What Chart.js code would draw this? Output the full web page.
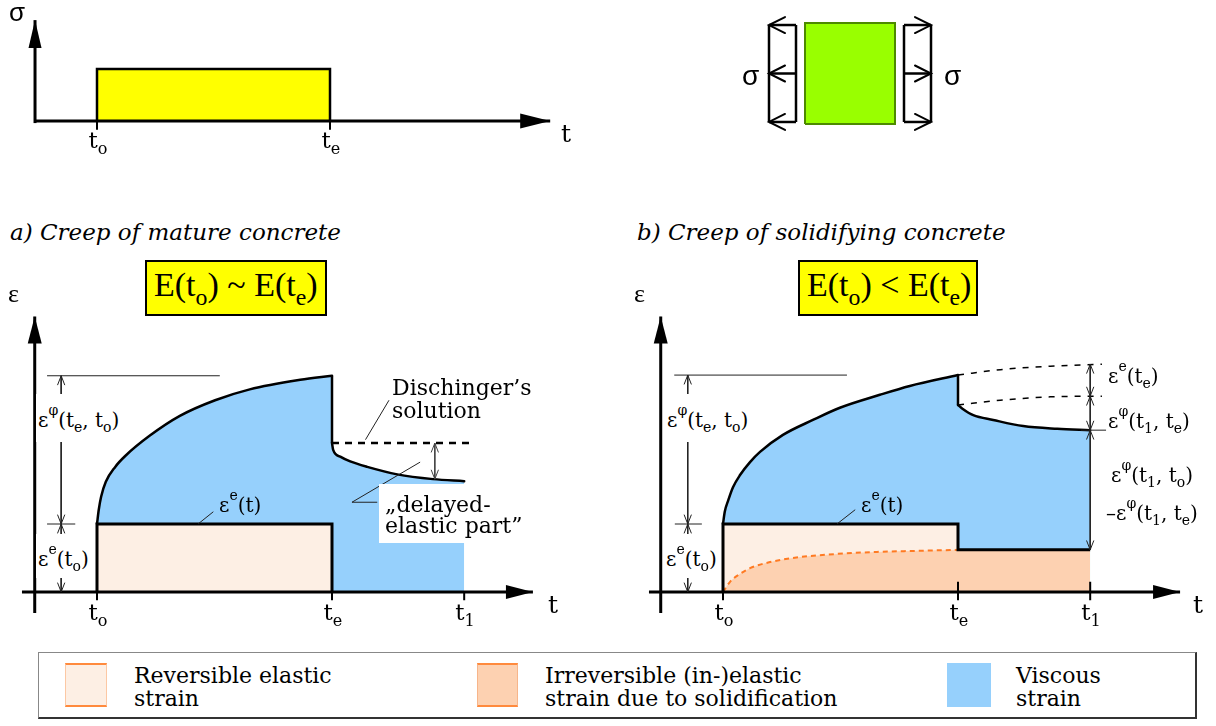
<!DOCTYPE html>
<html>
<head>
<meta charset="utf-8">
<title>Creep of mature and solidifying concrete</title>
<script src="https://cdn.jsdelivr.net/npm/chart.js@4.4.1/dist/chart.umd.min.js"></script>
<style>
  html, body { margin: 0; padding: 0; background: #fff; }
  #page { position: relative; width: 1216px; height: 726px; overflow: hidden; background: #fff; }
  #page canvas { position: absolute; }
  .lbl { position: absolute; white-space: nowrap; line-height: 1; color: #000; }
  .lbl sub, .lbl sup { font-size: 0.7em; line-height: 0; position: relative; vertical-align: baseline; }
  .lbl sub { top: 0.38em; }
  .lbl sup { top: -0.85em; }
  .ebox { position: absolute; background: #ffff00; border: 2px solid #000; box-sizing: border-box; }
  .legend { position: absolute; left: 38px; top: 652px; width: 1159px; height: 67px; box-sizing: border-box;
            border: 1px solid #888; border-right: 2px solid #333; border-bottom: 2px solid #333; }
  .sw { position: absolute; box-sizing: border-box; }
  .white { position: absolute; background: #fff; }
</style>
</head>
<body>
<div id="page">
  <canvas id="stress" width="600" height="170" style="left:0px;top:0px"></canvas>
  <canvas id="element" width="240" height="150" style="left:740px;top:0px"></canvas>
  <canvas id="panelA" width="600" height="340" style="left:0px;top:300px"></canvas>
  <canvas id="panelB" width="596" height="340" style="left:620px;top:300px"></canvas>
  <div class="ebox" style="left:145px;top:260px;width:182px;height:56px"></div>
  <div class="ebox" style="left:798px;top:260px;width:180px;height:56px"></div>
  <div class="white" style="left:379px;top:484px;width:140px;height:59px"></div>
  <div class="legend"></div>
  <div class="sw" style="left:65px;top:663px;width:42px;height:44px;background:#fdefe4;border-top:2px solid #ff8a3d;border-bottom:2px solid #ff8a3d;border-left:1px solid #fcc8a4;border-right:1px solid #fcc8a4"></div>
  <div class="sw" style="left:477px;top:663px;width:41px;height:44px;background:#fdd1b1;border-top:2px solid #ff8a3d;border-bottom:2px solid #ff8a3d;border-left:1px solid #f7b58a;border-right:1px solid #f7b58a"></div>
  <div class="sw" style="left:947px;top:663px;width:44px;height:44px;background:#96d0fc"></div>
</div>
<script>
// ---------------------------------------------------------------
// Data (time in arbitrary units, strain in units of ε^e(t_o))
// ---------------------------------------------------------------
const timeMarks = [1, 5, 7.25];            // t_o, t_e, t_1
const timeNames = ['o', 'e', '1'];
const [T_O, T_E, T_1] = timeMarks;
const EPS_E = 1;                           // initial elastic strain ε^e(t_o)

// stress history σ(t): load applied at t_o, removed at t_e
const stressHistory = [[1, 0], [1, 1], [5, 1], [5, 0]];

// a) mature concrete
const elasticA  = [[1, 1], [5, 1]];
const creepA    = [[1, 1.00], [1.03, 1.21], [1.07, 1.40], [1.15, 1.62], [1.31, 1.84], [1.48, 2.00],
                   [1.90, 2.30], [2.41, 2.59], [3.01, 2.82], [3.60, 2.98], [4.46, 3.12], [5.00, 3.18]];
const recoveryA = [[5, 2.19], [5.02, 2.09], [5.14, 1.99], [5.31, 1.92], [5.60, 1.84], [6.11, 1.73],
                   [6.72, 1.66], [7.25, 1.63]];
const dischingerA   = [[5, 2.19], [7.35, 2.19]];
const delayedArrowA = [[6.75, 2.19], [6.75, 1.66]];

// b) solidifying concrete
const elasticB     = [[1, 1], [5, 1], [5, 0.62], [7.25, 0.62]];
const solidifiedB  = [[1, 0], [1.12, 0.15], [1.26, 0.25], [1.46, 0.35], [1.80, 0.44], [2.28, 0.51],
                      [2.94, 0.56], [3.62, 0.59], [4.29, 0.605], [5, 0.62]];
const creepB       = [[1, 1.00], [1.03, 1.18], [1.09, 1.35], [1.17, 1.54], [1.29, 1.72], [1.46, 1.91],
                      [1.63, 2.06], [2.02, 2.31], [2.53, 2.53], [2.99, 2.71], [3.67, 2.90], [4.18, 3.03], [5, 3.19]];
const recoveryB    = [[5, 2.75], [5.07, 2.70], [5.26, 2.60], [5.60, 2.53], [6.11, 2.44], [6.69, 2.40], [7.25, 2.38]];
const extrapTopB   = [[5, 3.19], [5.72, 3.27], [6.57, 3.32], [7.45, 3.35]];
const extrapLowB   = [[5, 2.75], [5.72, 2.82], [6.57, 2.87], [7.45, 2.88]];
const splitAtT1B   = [3.35, 2.88, 2.38, 0.62];   // ε^e(t_e) | ε^φ(t_1,t_e) | remaining part

// stressed element (unit square) with stress arrows
const elementSquare = [[-1, 1], [1, 1]];
const arrowLevels   = [0.96, 0, -0.96];

// ---------------------------------------------------------------
const BLUE = '#96d0fc', PEACH = '#fdefe4', ORANGE_FILL = '#fdd1b1', ORANGE = '#ff7a22';
const YELLOW = '#ffff00', GREEN = '#99ff00';
const pts = arr => arr.map(([x, y]) => ({x, y}));

// scale limits so that value v1 lands on pixel p1 and v2 on p2 of a canvas side
function range(v1, p1, v2, p2, size, flip) {
  if (!flip) {
    const k = (p2 - p1) / (v2 - v1);
    const min = v1 - p1 / k;
    return {min, max: min + size / k};
  }
  const k = (p1 - p2) / (v2 - v1);
  const max = v1 + p1 / k;
  return {min: max - size / k, max};
}

// arrow heads at the ends of datasets that ask for them
function head(ctx, tip, from, spec, color) {
  const a = Math.atan2(tip.y - from.y, tip.x - from.x);
  const bx = tip.x - spec.len * Math.cos(a), by = tip.y - spec.len * Math.sin(a);
  const nx = -Math.sin(a) * spec.half, ny = Math.cos(a) * spec.half;
  ctx.save();
  ctx.beginPath();
  ctx.moveTo(bx + nx, by + ny);
  ctx.lineTo(tip.x, tip.y);
  ctx.lineTo(bx - nx, by - ny);
  if (spec.filled) { ctx.closePath(); ctx.fillStyle = color; ctx.fill(); }
  else { ctx.strokeStyle = color; ctx.lineWidth = spec.width || 1; ctx.lineCap = 'round'; ctx.stroke(); }
  ctx.restore();
}
const arrowHeads = {
  id: 'arrowHeads',
  afterDatasetsDraw(chart) {
    chart.data.datasets.forEach((ds, i) => {
      const spec = ds.arrows;
      if (!spec) return;
      const p = chart.getDatasetMeta(i).data;
      const n = p.length;
      if (spec.end) head(chart.ctx, p[n - 1], p[n - 2], spec, ds.borderColor);
      if (spec.start) head(chart.ctx, p[0], p[1], spec, ds.borderColor);
    });
  }
};

const dsFill = (data, color, fill, order, smooth) => ({
  data: pts(data), backgroundColor: color, borderColor: 'rgba(0,0,0,0)', borderWidth: 0,
  fill, order, tension: 0, cubicInterpolationMode: smooth ? 'monotone' : 'default', pointRadius: 0
});
const dsLine = (data, o = {}) => Object.assign({
  data: pts(data), borderColor: '#000', borderWidth: 1, fill: false, order: 1, tension: 0,
  pointRadius: 0, borderCapStyle: 'butt', borderJoinStyle: 'miter'
}, o);
const dsCurve = (data, o = {}) => dsLine(data, Object.assign({cubicInterpolationMode: 'monotone', borderCapStyle: 'round'}, o));

const AXIS_HEAD = {end: true, filled: true, len: 27, half: 7};
const DIM = {start: true, end: true, len: 9, half: 3.5, width: 1};

function makeChart(id, xr, yr, datasets) {
  return new Chart(document.getElementById(id), {
    type: 'line',
    data: {datasets},
    options: {
      responsive: false, animation: false, events: [],
      layout: {padding: 0},
      plugins: {legend: {display: false}, tooltip: {enabled: false}, title: {display: false}},
      elements: {point: {radius: 0, hoverRadius: 0, hitRadius: 0}},
      scales: {
        x: {type: 'linear', display: false, min: xr.min, max: xr.max},
        y: {type: 'linear', display: false, min: yr.min, max: yr.max}
      }
    },
    plugins: [arrowHeads]
  });
}

// ---------- σ(t) history ----------
const stressChart = makeChart('stress', range(1, 97, 5, 330, 600), range(0, 121, 1, 69, 170, true), [
  dsLine(stressHistory, {fill: 'origin', backgroundColor: YELLOW, borderWidth: 2.5, order: 5}),
  dsLine([[-0.064, 0], [8.78, 0]], {borderWidth: 3, arrows: Object.assign({}, AXIS_HEAD, {len: 30, half: 7.5})}),
  dsLine([[-0.064, -0.04], [-0.064, 1.94]], {borderWidth: 3, arrows: Object.assign({}, AXIS_HEAD, {len: 28, half: 6.5})}),
  ...timeMarks.slice(0, 2).map(t => dsLine([[t, 0], [t, -0.17]], {borderWidth: 2}))
]);

// ---------- stressed element ----------
const elementChart = makeChart('element', range(-1, 65, 1, 155, 240), range(-1, 124, 1, 23, 150, true), [
  dsFill(elementSquare, GREEN, {value: -1}, 5, false),
  dsLine([[-1, -1], [-1, 1], [1, 1], [1, -1], [-1, -1]], {borderColor: '#4d8a00', borderWidth: 2, order: 4}),
  dsLine([[-1.8, 0.96], [-1.8, -0.96]], {borderWidth: 2.5}),
  dsLine([[-1.2, 0.96], [-1.2, -0.96]], {borderWidth: 2.5}),
  dsLine([[1.2, 0.96], [1.2, -0.96]], {borderWidth: 2.5}),
  dsLine([[1.8, 0.96], [1.8, -0.96]], {borderWidth: 2.5}),
  ...arrowLevels.map(y => dsLine([[-1.2, y], [-1.8, y]], {borderWidth: 2.5, arrows: {end: true, len: 16, half: 8, width: 2}})),
  ...arrowLevels.map(y => dsLine([[1.2, y], [1.8, y]], {borderWidth: 2.5, arrows: {end: true, len: 16, half: 8, width: 2}}))
]);

// ---------- a) mature concrete ----------
const peakA = creepA[creepA.length - 1][1];
const dropA = recoveryA[0][1];
const outlineA = [[elasticA[0][0], 0], ...elasticA, [elasticA[1][0], 0]];
const chartA = makeChart('panelA', range(1, 97, 5, 332, 600), range(0, 292, 1, 224, 340, true), [
  dsFill(recoveryA, BLUE, 'origin', 10, true),
  dsFill(elasticA, PEACH, 'origin', 9, false),
  dsFill(creepA, BLUE, {value: EPS_E}, 8, true),
  dsCurve(creepA, {borderWidth: 2.5, order: 2}),
  dsLine([[T_E, peakA], [T_E, dropA]], {borderWidth: 2.5, order: 2}),
  dsCurve(recoveryA, {borderWidth: 2.5, order: 2}),
  dsLine(outlineA, {borderWidth: 3, order: 2}),
  dsLine(dischingerA, {borderWidth: 2.5, borderDash: [7, 6], order: 2}),
  dsLine(delayedArrowA, {borderColor: '#444', arrows: DIM}),
  dsLine([[-0.277, 0], [8.42, 0]], {borderWidth: 3, arrows: AXIS_HEAD}),
  dsLine([[-0.06, -0.31], [-0.06, 4.05]], {borderWidth: 3, arrows: AXIS_HEAD}),
  ...timeMarks.map(t => dsLine([[t, 0], [t, -0.12]], {borderWidth: 2})),
  // dimension lines
  dsLine([[0.15, peakA], [3.09, peakA]], {borderColor: '#222'}),
  dsLine([[0.15, EPS_E], [0.63, EPS_E]], {borderColor: '#222'}),
  dsLine([[0.39, peakA], [0.39, EPS_E]], {borderColor: '#222', arrows: DIM}),
  dsLine([[0.39, EPS_E], [0.39, 0]], {borderColor: '#222', arrows: DIM}),
  // leader lines
  dsLine([[5.57, 2.24], [5.97, 2.82]], {borderColor: '#222'}),
  dsLine([[5.77, 1.32], [5.34, 1.32], [6.50, 1.91]], {borderColor: '#222'}),
  dsLine([[2.72, 1.0], [2.98, 1.18]], {borderColor: '#222'})
]);

// ---------- b) solidifying concrete ----------
const peakB = creepB[creepB.length - 1][1];
const dropB = recoveryB[0][1];
const levelB = elasticB[elasticB.length - 1][1];
const outlineB = [[elasticB[0][0], 0], ...elasticB];
const chartB = makeChart('panelB', range(1, 103, 5, 338, 596), range(0, 292, 1, 224, 340, true), [
  dsFill(recoveryB, BLUE, 'origin', 10, true),
  dsFill(elasticB.slice(0, 2), PEACH, 'origin', 9, false),
  dsFill([...solidifiedB, [T_1, levelB]], ORANGE_FILL, 'origin', 8, true),
  dsFill(creepB, BLUE, {value: EPS_E}, 7, true),
  dsCurve(solidifiedB, {borderColor: ORANGE, borderWidth: 2, borderDash: [5, 4], borderCapStyle: 'butt', order: 3}),
  dsCurve(creepB, {borderWidth: 2.5, order: 2}),
  dsLine([[T_E, peakB], [T_E, dropB]], {borderWidth: 2.5, order: 2}),
  dsCurve(recoveryB, {borderWidth: 2.5, order: 2}),
  dsLine(outlineB, {borderWidth: 3, order: 2}),
  dsCurve(extrapTopB, {borderWidth: 1.5, borderDash: [6, 7], borderCapStyle: 'butt', order: 2}),
  dsCurve(extrapLowB, {borderWidth: 1.5, borderDash: [6, 7], borderCapStyle: 'butt', order: 2}),
  dsLine([[-0.26, 0], [8.78, 0]], {borderWidth: 3, arrows: AXIS_HEAD}),
  dsLine([[-0.06, -0.31], [-0.06, 4.05]], {borderWidth: 3, arrows: AXIS_HEAD}),
  dsLine([[T_O, 0], [T_O, -0.12]], {borderWidth: 2}),
  ...timeMarks.slice(1).map(t => dsLine([[t, 0.15], [t, -0.12]], {borderWidth: 2})),
  // dimension lines, left
  dsLine([[0.17, peakB], [3.11, peakB]], {borderColor: '#222'}),
  dsLine([[0.18, EPS_E], [0.64, EPS_E]], {borderColor: '#222'}),
  dsLine([[0.40, peakB], [0.40, EPS_E]], {borderColor: '#222', arrows: DIM}),
  dsLine([[0.40, EPS_E], [0.40, 0]], {borderColor: '#222', arrows: DIM}),
  // dimension lines at t_1
  dsLine([[7.09, splitAtT1B[2]], [7.52, splitAtT1B[2]]], {borderColor: '#222'}),
  ...splitAtT1B.slice(0, 3).map((v, i) =>
    dsLine([[T_1, v], [T_1, splitAtT1B[i + 1]]], {borderColor: '#222', arrows: DIM})),
  // leader line
  dsLine([[2.94, 1.0], [3.25, 1.21]], {borderColor: '#222'})
]);

// ---------------------------------------------------------------
// Text
// ---------------------------------------------------------------
const page = document.getElementById('page');
const FONTS = {
  serif: '"DejaVu Serif", serif',
  times: '"Liberation Serif", "Times New Roman", serif',
  sans: '"Liberation Sans", Arial, sans-serif'
};
const baseCache = {};
function baselineOf(font, size, italic) {
  const key = font + size + italic;
  if (key in baseCache) return baseCache[key];
  const d = document.createElement('div');
  d.className = 'lbl';
  d.style.left = '0px'; d.style.top = '0px';
  d.style.fontFamily = FONTS[font]; d.style.fontSize = size + 'px';
  d.style.fontStyle = italic ? 'italic' : 'normal';
  d.innerHTML = 'Hx<span style="display:inline-block;width:0;height:0"></span>';
  page.appendChild(d);
  const b = d.lastChild.offsetTop;
  d.remove();
  return (baseCache[key] = b);
}
function label(html, x, base, o = {}) {
  const font = o.font || 'serif', size = o.size || 20, italic = !!o.italic;
  const pad = o.pad || [0, 0, 0, 0];
  const el = document.createElement('div');
  el.className = 'lbl';
  el.style.fontFamily = FONTS[font];
  el.style.fontSize = size + 'px';
  el.style.fontStyle = italic ? 'italic' : 'normal';
  el.style.padding = pad.map(v => v + 'px').join(' ');
  if (o.bg) el.style.background = o.bg;
  el.innerHTML = html;
  page.appendChild(el);
  let left = x - pad[3];
  if (o.align === 'center') left = x - el.offsetWidth / 2;
  el.style.left = left + 'px';
  el.style.top = (base - baselineOf(font, size, italic) - pad[0]) + 'px';
  return el;
}

// time tick labels placed from the chart scales
function tickLabels(chart, canvasLeft, marks, base) {
  marks.forEach((t, i) => {
    const px = canvasLeft + chart.scales.x.getPixelForValue(t);
    label('t<sub>' + timeNames[i] + '</sub>', px + 1, base, {size: 23, align: 'center'});
  });
}
tickLabels(stressChart, 0, timeMarks.slice(0, 2), 148);
tickLabels(chartA, 0, timeMarks, 620);
tickLabels(chartB, 620, timeMarks, 620);

// σ(t) and element
label('σ', 9, 21, {font: 'sans', size: 26});
label('t', 561, 142, {size: 25});
label('σ', 742, 85, {font: 'sans', size: 28});
label('σ', 944, 85, {font: 'sans', size: 28});

// titles and boxed relations
label('a) Creep of mature concrete', 10, 240, {size: 23, italic: true});
label('b) Creep of solidifying concrete', 637, 240, {size: 23, italic: true});
label('E(t<sub>o</sub>) ~ E(t<sub>e</sub>)', 236, 296, {font: 'times', size: 34, align: 'center'});
label('E(t<sub>o</sub>) &lt; E(t<sub>e</sub>)', 889, 296, {font: 'times', size: 34, align: 'center'});

// axis letters
label('ε', 8, 302, {font: 'times', size: 26});
label('ε', 634, 302, {font: 'times', size: 26});
label('t', 548, 613, {size: 25});
label('t', 1193, 613, {size: 25});

// panel a annotations
label('Dischinger’s', 392, 395, {size: 22});
label('solution', 392, 418, {size: 22});
label('„delayed-', 385, 512, {size: 22});
label('elastic part”', 385, 533, {size: 22});
label('ε<sup>e</sup>(t)', 219, 512, {size: 20});
label('ε<sup>φ</sup>(t<sub>e</sub>, t<sub>o</sub>)', 38, 427, {size: 20, bg: '#fff', pad: [16, 2, 12, 2]});
label('ε<sup>e</sup>(t<sub>o</sub>)', 38, 566, {size: 20, bg: '#fff', pad: [15, 2, 9, 2]});

// panel b annotations
label('ε<sup>e</sup>(t)', 861, 512, {size: 20});
label('ε<sup>φ</sup>(t<sub>e</sub>, t<sub>o</sub>)', 667, 427, {size: 20, bg: '#fff', pad: [16, 2, 12, 2]});
label('ε<sup>e</sup>(t<sub>o</sub>)', 666, 566, {size: 20, bg: '#fff', pad: [15, 2, 9, 2]});
label('ε<sup>e</sup>(t<sub>e</sub>)', 1108, 383, {size: 20});
label('ε<sup>φ</sup>(t<sub>1</sub>, t<sub>e</sub>)', 1108, 428, {size: 20});
label('ε<sup>φ</sup>(t<sub>1</sub>, t<sub>o</sub>)', 1111, 482, {size: 20});
label('–ε<sup>φ</sup>(t<sub>1</sub>, t<sub>e</sub>)', 1106, 520, {size: 20});

// legend
label('Reversible elastic', 134, 683, {size: 22});
label('strain', 134, 706, {size: 22});
label('Irreversible (in-)elastic', 545, 683, {size: 22});
label('strain due to solidification', 545, 706, {size: 22});
label('Viscous', 1016, 683, {size: 22});
label('strain', 1016, 706, {size: 22});
</script>
</body>
</html>
